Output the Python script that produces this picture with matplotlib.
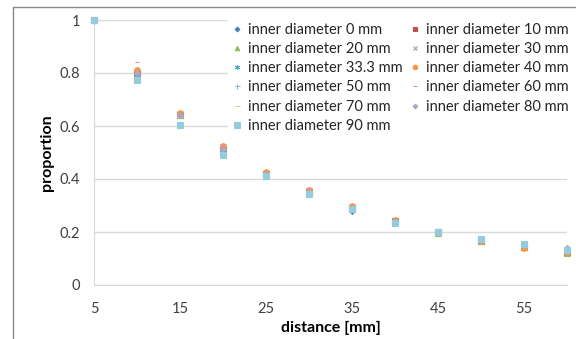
import matplotlib.pyplot as plt
from matplotlib.patches import Rectangle

plt.rcParams["font.family"] = ["Lato", "DejaVu Sans"]

distance = [5, 10, 15, 20, 25, 30, 35, 40, 45, 50, 55, 60]

labels = ["inner diameter 0 mm", "inner diameter 10 mm", "inner diameter 20 mm",
          "inner diameter 30 mm", "inner diameter 33.3 mm", "inner diameter 40 mm",
          "inner diameter 50 mm", "inner diameter 60 mm", "inner diameter 70 mm",
          "inner diameter 80 mm", "inner diameter 90 mm"]

d0 = [1, 0.79, 0.64, 0.50, 0.41, 0.35, 0.28, 0.24, 0.20, 0.17, 0.15, 0.13]
d10 = [1, 0.80, 0.64, 0.51, 0.42, 0.35, 0.29, 0.24, 0.20, 0.165, 0.145, 0.125]
d20 = [1, 0.80, 0.64, 0.51, 0.42, 0.35, 0.29, 0.24, 0.195, 0.165, 0.145, 0.12]
d30 = [1, 0.80, 0.645, 0.52, 0.42, 0.355, 0.29, 0.24, 0.20, 0.17, 0.15, 0.13]
d33 = [1, 0.79, 0.64, 0.51, 0.42, 0.35, 0.29, 0.24, 0.20, 0.17, 0.15, 0.13]
d40 = [1, 0.81, 0.65, 0.525, 0.425, 0.36, 0.30, 0.245, 0.20, 0.165, 0.14, 0.125]
d50 = [1, 0.80, 0.64, 0.51, 0.42, 0.35, 0.29, 0.24, 0.20, 0.17, 0.15, 0.13]
d60 = [1, 0.84, 0.65, 0.53, 0.43, 0.365, 0.30, 0.245, 0.205, 0.17, 0.15, 0.13]
d70 = [1, 0.80, 0.635, 0.51, 0.415, 0.35, 0.29, 0.24, 0.195, 0.165, 0.145, 0.12]
d80 = [1, 0.80, 0.64, 0.515, 0.42, 0.35, 0.29, 0.24, 0.20, 0.17, 0.15, 0.14]
d90 = [1, 0.775, 0.605, 0.49, 0.41, 0.345, 0.287, 0.234, 0.20, 0.174, 0.155, 0.132]

series = [d0, d10, d20, d30, d33, d40, d50, d60, d70, d80, d90]

styles = [
    ("D", "#4F81BD", 3.0),
    ("s", "#C0504D", 3.8),
    ("^", "#9BBB59", 4.0),
    ("x", "#A898C2", 4.0),
    ((6, 2, 0), "#4BACC6", 4.5),
    ("o", "#F79646", 4.0),
    ("+", "#95B3D7", 4.5),
    ("_", "#D99694", 3.5),
    ("_", "#C3D69B", 4.5),
    ("D", "#B3A2C7", 3.0),
    ("s", "#93CDDD", 4.6),
]

fig = plt.figure(figsize=(5.76, 3.39), dpi=100)
ax = fig.add_axes([94 / 576, 54 / 339, 473 / 576, 265 / 339])

handles = []
for vals, lab, (m, c, ms) in zip(series, labels, styles):
    h, = ax.plot(distance, vals, linestyle="none", marker=m, color=c, markersize=ms,
                 markeredgewidth=0.8, label=lab, clip_on=False, zorder=3)
    handles.append(h)

ax.set_xlim(5, 60)
ax.set_ylim(0, 1)
ax.set_xticks([5, 15, 25, 35, 45, 55])
ax.set_yticks([0, 0.2, 0.4, 0.6, 0.8, 1])
ax.set_yticklabels(["0", "0.2", "0.4", "0.6", "0.8", "1"])
ax.tick_params(length=0, labelsize=10.5, colors="#404040")
ax.tick_params(axis="x", pad=12)
ax.tick_params(axis="y", pad=10)
ax.grid(axis="y", color="#D9D9D9", linewidth=1)
ax.set_axisbelow(True)
for s in ["top", "right"]:
    ax.spines[s].set_visible(False)
for s in ["left", "bottom"]:
    ax.spines[s].set_color("#D9D9D9")

ax.set_xlabel("distance [mm]", fontsize=11.5, fontweight="bold", labelpad=4)
ax.set_ylabel("proportion", fontsize=11.5, fontweight="bold", labelpad=4)

# Excel fills the legend row by row, matplotlib column by column
order = [0, 2, 4, 6, 8, 10, 1, 3, 5, 7, 9]
leg = ax.legend([handles[i] for i in order], [labels[i] for i in order],
                ncol=2, loc="upper left", bbox_to_anchor=(0.268, 1.034), fontsize=10.5,
                frameon=True, framealpha=1, edgecolor="white", facecolor="white",
                handlelength=0.6, handletextpad=0.45, columnspacing=0.6,
                labelspacing=0.36, borderpad=0.3, fancybox=False, markerscale=0.8)
for t in leg.get_texts():
    t.set_color("#262626")

fig.patches.append(Rectangle((13 / 576, -0.1), 1.2, 1 - 7 / 339 + 0.1,
                             transform=fig.transFigure, fill=False,
                             edgecolor="#888888", linewidth=1))

fig.savefig("out.png", dpi=100)
